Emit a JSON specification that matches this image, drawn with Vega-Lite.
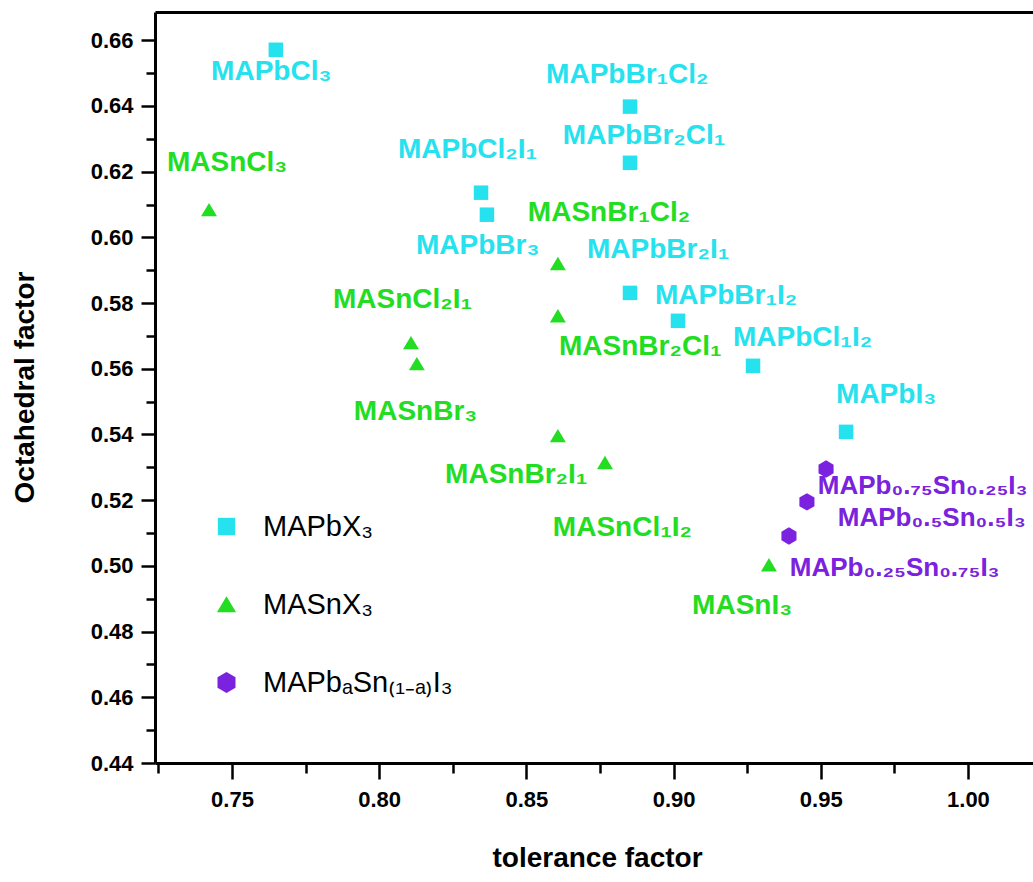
{
  "$schema": "https://vega.github.io/schema/vega-lite/v6.json",
  "width": 878,
  "height": 751,
  "autosize": {"type": "none"},
  "padding": {"left": 155, "top": 12, "right": 0, "bottom": 119},
  "background": "white",
  "config": {"view": {"stroke": null}, "font": "Liberation Sans"},
  "data": {
    "values": [
      {"group": "MAPbX₃", "label": "MAPbCl₃", "t": 0.7649, "o": 0.6571, "lx": 0.7429, "ly": 0.6504},
      {"group": "MAPbX₃", "label": "MAPbBr₁Cl₂", "t": 0.8852, "o": 0.6398, "lx": 0.8567, "ly": 0.6495},
      {"group": "MAPbX₃", "label": "MAPbBr₂Cl₁", "t": 0.8852, "o": 0.6227, "lx": 0.8624, "ly": 0.6309},
      {"group": "MAPbX₃", "label": "MAPbCl₂I₁", "t": 0.8346, "o": 0.6136, "lx": 0.8064, "ly": 0.6267},
      {"group": "MAPbX₃", "label": "MAPbBr₃", "t": 0.8366, "o": 0.6069, "lx": 0.8125, "ly": 0.5974},
      {"group": "MAPbX₃", "label": "MAPbBr₂I₁", "t": 0.8852, "o": 0.5831, "lx": 0.8706, "ly": 0.5962},
      {"group": "MAPbX₃", "label": "MAPbBr₁I₂", "t": 0.9015, "o": 0.5746, "lx": 0.8937, "ly": 0.5822},
      {"group": "MAPbX₃", "label": "MAPbCl₁I₂", "t": 0.9270, "o": 0.5609, "lx": 0.9202, "ly": 0.5694},
      {"group": "MAPbX₃", "label": "MAPbI₃", "t": 0.9586, "o": 0.5408, "lx": 0.9552, "ly": 0.5521},
      {"group": "MASnX₃", "label": "MASnCl₃", "t": 0.7422, "o": 0.6084, "lx": 0.7279, "ly": 0.6227},
      {"group": "MASnX₃", "label": "MASnBr₁Cl₂", "t": 0.8607, "o": 0.5920, "lx": 0.8505, "ly": 0.6075},
      {"group": "MASnX₃", "label": "MASnBr₂Cl₁", "t": 0.8607, "o": 0.5761, "lx": 0.8611, "ly": 0.5667},
      {"group": "MASnX₃", "label": "MASnCl₂I₁", "t": 0.8108, "o": 0.5679, "lx": 0.7843, "ly": 0.5810},
      {"group": "MASnX₃", "label": "MASnBr₃", "t": 0.8128, "o": 0.5615, "lx": 0.7914, "ly": 0.5469},
      {"group": "MASnX₃", "label": "MASnBr₂I₁", "t": 0.8607, "o": 0.5396, "lx": 0.8224, "ly": 0.5277},
      {"group": "MASnX₃", "label": "MASnCl₁I₂", "t": 0.8767, "o": 0.5314, "lx": 0.8590, "ly": 0.5116},
      {"group": "MASnX₃", "label": "MASnI₃", "t": 0.9324, "o": 0.5003, "lx": 0.9063, "ly": 0.4878},
      {"group": "MAPbₐSn₍₁₋ₐ₎I₃", "label": "MAPb₀.₇₅Sn₀.₂₅I₃", "t": 0.9518, "o": 0.5295, "lx": 0.9490, "ly": 0.5243},
      {"group": "MAPbₐSn₍₁₋ₐ₎I₃", "label": "MAPb₀.₅Sn₀.₅I₃", "t": 0.9453, "o": 0.5195, "lx": 0.9558, "ly": 0.5146},
      {"group": "MAPbₐSn₍₁₋ₐ₎I₃", "label": "MAPb₀.₂₅Sn₀.₇₅I₃", "t": 0.9392, "o": 0.5091, "lx": 0.9395, "ly": 0.4994}
    ]
  },
  "layer": [
    {
      "mark": {"type": "point", "filled": true, "opacity": 1, "size": 210},
      "encoding": {
        "x": {
          "field": "t", "type": "quantitative",
          "scale": {"domain": [0.72385, 1.0221], "nice": false, "zero": false},
          "axis": {
            "title": "tolerance factor",
            "values": [0.725, 0.75, 0.775, 0.8, 0.825, 0.85, 0.875, 0.9, 0.925, 0.95, 0.975, 1.0],
            "labelExpr": "round(datum.value*1000)%50==0 ? format(datum.value,'.2f') : ''",
            "labelFont": "Liberation Sans", "labelFontSize": 22, "labelFontWeight": "bold", "labelColor": "black",
            "labelPadding": 10, "labelFlush": false, "labelOverlap": false,
            "tickColor": "black", "tickWidth": 2.5,
            "tickSize": {"condition": {"test": "round(datum.value*1000)%50==0", "value": 16}, "value": 10},
            "domainColor": "black", "domainWidth": 3, "grid": false,
            "titleFont": "Liberation Sans", "titleFontSize": 28, "titleFontWeight": "bold", "titleColor": "black",
            "titleX": 442, "titleY": 95, "titleBaseline": "middle", "titleAnchor": "middle", "titleAlign": "center"
          }
        },
        "y": {
          "field": "o", "type": "quantitative",
          "scale": {"domain": [0.44, 0.6686], "nice": false, "zero": false},
          "axis": {
            "title": "Octahedral factor",
            "values": [0.44, 0.45, 0.46, 0.47, 0.48, 0.49, 0.5, 0.51, 0.52, 0.53, 0.54, 0.55, 0.56, 0.57, 0.58, 0.59, 0.6, 0.61, 0.62, 0.63, 0.64, 0.65, 0.66],
            "labelExpr": "round(datum.value*100)%2==0 ? format(datum.value,'.2f') : ''",
            "labelFont": "Liberation Sans", "labelFontSize": 22, "labelFontWeight": "bold", "labelColor": "black",
            "labelPadding": 8, "labelFlush": false, "labelOverlap": false,
            "tickColor": "black", "tickWidth": 2.5,
            "tickSize": {"condition": {"test": "round(datum.value*100)%2==0", "value": 14}, "value": 9},
            "domainColor": "black", "domainWidth": 3, "grid": false,
            "titleFont": "Liberation Sans", "titleFontSize": 28, "titleFontWeight": "bold", "titleColor": "black",
            "titleX": -130, "titleY": 375, "titleBaseline": "middle", "titleAlign": "center", "titleAngle": -90
          }
        },
        "color": {
          "field": "group", "type": "nominal",
          "scale": {"domain": ["MAPbX₃", "MASnX₃", "MAPbₐSn₍₁₋ₐ₎I₃"], "range": ["#25E2EE", "#22DD22", "#7A22DD"]},
          "legend": {
            "title": null, "orient": "none", "legendX": 57, "legendY": 500, "direction": "vertical",
            "labelFont": "Liberation Sans", "labelFontSize": 29, "labelColor": "black", "labelLimit": 400,
            "symbolSize": 300, "symbolStrokeWidth": 0, "symbolOpacity": 1, "rowPadding": 48, "labelOffset": 22, "padding": 0
          }
        },
        "shape": {
          "field": "group", "type": "nominal",
          "scale": {"domain": ["MAPbX₃", "MASnX₃", "MAPbₐSn₍₁₋ₐ₎I₃"], "range": ["square", "M0,-0.95L1.1,0.9L-1.1,0.9Z", "M0,-1.2L1.04,-0.6L1.04,0.6L0,1.2L-1.04,0.6L-1.04,-0.6Z"]},
          "legend": {
            "title": null, "orient": "none", "legendX": 57, "legendY": 500, "direction": "vertical",
            "labelFont": "Liberation Sans", "labelFontSize": 29, "labelColor": "black", "labelLimit": 400,
            "symbolSize": 300, "symbolStrokeWidth": 0, "symbolOpacity": 1, "rowPadding": 48, "labelOffset": 22, "padding": 0
          }
        }
      }
    },
    {
      "transform": [{"filter": "datum.group == 'MAPbX₃'"}],
      "mark": {"type": "text", "align": "left", "baseline": "middle", "fontSize": 28, "fontWeight": "bold", "font": "Liberation Sans", "color": "#25E2EE"},
      "encoding": {
        "x": {
          "field": "lx", "type": "quantitative",
          "axis": {"orient": "top", "labels": false, "ticks": false, "title": null, "domainColor": "black", "domainWidth": 3, "grid": false}
        },
        "y": {"field": "ly", "type": "quantitative", "axis": null},
        "text": {"field": "label"}
      }
    },
    {
      "transform": [{"filter": "datum.group == 'MASnX₃'"}],
      "mark": {"type": "text", "align": "left", "baseline": "middle", "fontSize": 28, "fontWeight": "bold", "font": "Liberation Sans", "color": "#22DD22"},
      "encoding": {
        "x": {"field": "lx", "type": "quantitative", "axis": null},
        "y": {"field": "ly", "type": "quantitative", "axis": null},
        "text": {"field": "label"}
      }
    },
    {
      "transform": [{"filter": "datum.group == 'MAPbₐSn₍₁₋ₐ₎I₃'"}],
      "mark": {"type": "text", "align": "left", "baseline": "middle", "fontSize": 26, "fontWeight": "bold", "font": "Liberation Sans", "color": "#7A22DD"},
      "encoding": {
        "x": {"field": "lx", "type": "quantitative", "axis": null},
        "y": {"field": "ly", "type": "quantitative", "axis": null},
        "text": {"field": "label"}
      }
    }
  ],
  "resolve": {"axis": {"x": "independent", "y": "independent"}}
}
